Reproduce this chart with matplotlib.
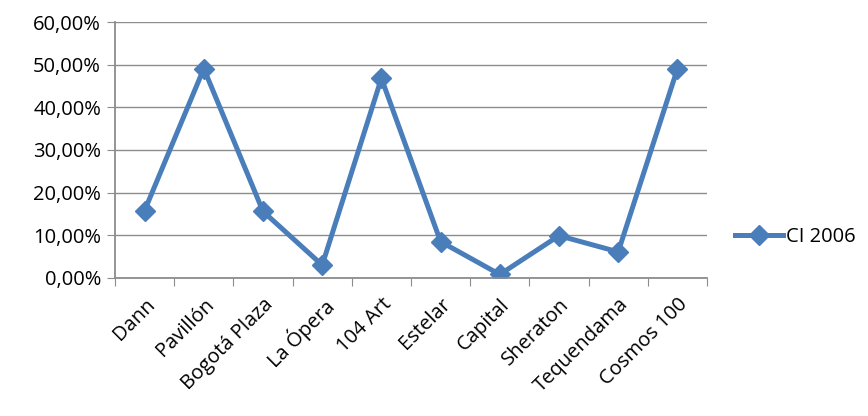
import numpy as np
import matplotlib
matplotlib.use("Agg")
import matplotlib.pyplot as plt
from matplotlib.ticker import FuncFormatter, MultipleLocator
from matplotlib.lines import Line2D

hotels = ["Dann", "Pavillón", "Bogotá Plaza", "La Ópera", "104 Art",
          "Estelar", "Capital", "Sheraton", "Tequendama", "Cosmos 100"]
ci_2006 = [15.8, 49.1, 15.6, 3.0, 46.8, 8.5, 0.8, 9.9, 6.1, 49.0]
series_name = "CI 2006"

plt.rcParams['font.family'] = ['Open Sans', 'DejaVu Sans']
blue = "#4A7EBB"
grid = "#8C8C8C"
fs = 14.5

fig = plt.figure(figsize=(8.68, 4.16), dpi=100)
ax = fig.add_axes([0.1325, 0.332, 0.682, 0.615])

x = np.arange(len(hotels))
ax.plot(x, ci_2006, color=blue, lw=3.6, marker="D", ms=10,
        markeredgecolor=blue, markerfacecolor=blue, solid_joinstyle="miter")

ax.set_xlim(-0.5, len(hotels) - 0.5)
ax.set_ylim(0, 60)
ax.yaxis.set_major_locator(MultipleLocator(10))
ax.yaxis.set_major_formatter(FuncFormatter(lambda v, p: f"{v:.2f}%".replace(".", ",")))
ax.yaxis.grid(True, color=grid, lw=1)
ax.set_axisbelow(True)

# category boundaries as ticks, labels at centers
ax.set_xticks(np.arange(-0.5, len(hotels)), minor=False)
ax.set_xticklabels([])
ax.set_xticks(x, minor=True)
ax.set_xticklabels(hotels, minor=True, rotation=45, ha="right",
                   rotation_mode="anchor", fontsize=fs)
ax.tick_params(axis="x", which="major", length=6, color=grid, direction="out")
ax.tick_params(axis="x", which="minor", length=0, pad=12)
ax.tick_params(axis="y", length=6, color=grid, labelsize=fs, pad=4)

for s in ["top", "right"]:
    ax.spines[s].set_visible(False)
for s in ["left", "bottom"]:
    ax.spines[s].set_color(grid)
    ax.spines[s].set_linewidth(1.3)

handle = Line2D([], [], color=blue, lw=3.6, marker="D", ms=10)
fig.legend([handle], [series_name], loc="center left",
           bbox_to_anchor=(0.826, 0.43), frameon=False, fontsize=fs,
           handlelength=2.4, handletextpad=0.15)

fig.savefig("out.png", dpi=100)
